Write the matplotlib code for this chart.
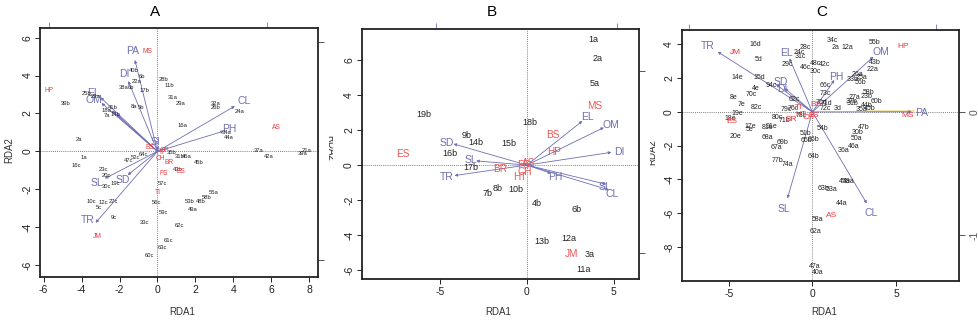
import matplotlib
matplotlib.use("Agg")
import matplotlib.pyplot as plt
from matplotlib.transforms import Bbox, TransformedBbox

plt.rcParams['font.family'] = ['Liberation Sans', 'DejaVu Sans']

BLUE = '#6e6eb4'
RED = '#e8393f'
BLACK = '#222222'

# ---------------- Panel A ----------------
a_site_lab = ["40b", "6b", "22a", "38a", "6b", "17b", "28b", "11b", "31a", "29a", "32a", "26b",
              "24a", "16a", "34a", "44a", "37a", "42a", "21a", "39a", "39b", "25b", "23a", "41b",
              "18a", "14b", "7a", "8a", "5b", "2a", "1a", "16c", "23c", "20c", "30c", "19c", "47c",
              "52c", "64c", "10c", "12c", "27c", "5c", "9c", "33c", "56c", "59c", "57c", "62c",
              "61c", "63c", "60c", "35b", "31b", "46a", "45b", "43b", "55a", "58b", "48b", "53b", "49a"]
a_site_x = [-1.27, -0.84, -1.10, -1.77, -1.42, -0.70, 0.31, 0.62, 0.78, 1.24, 3.08, 3.08,
            4.35, 1.33, 3.64, 3.78, 5.31, 5.84, 7.86, 7.65, -4.84, -3.73, -3.26, -2.33,
            -2.68, -2.21, -2.68, -1.24, -0.89, -4.14, -3.87, -4.26, -2.82, -2.71, -2.71, -2.24, -1.54,
            -1.13, -0.71, -3.47, -2.86, -2.33, -3.07, -2.29, -0.70, -0.05, 0.34, 0.25, 1.15,
            0.57, 0.25, -0.40, 0.75, 1.15, 1.54, 2.19, 1.08, 2.94, 2.59, 2.29, 1.71, 1.85]
a_site_y = [4.29, 3.94, 3.71, 3.38, 3.38, 3.20, 3.77, 3.50, 2.83, 2.50, 2.50, 2.32,
            2.09, 1.34, 0.98, 0.72, 0.02, -0.28, 0.03, -0.12, 2.53, 3.03, 2.89, 2.30,
            2.13, 1.95, 1.88, 2.36, 2.32, 0.60, -0.33, -0.72, -0.95, -1.29, -1.87, -1.69, -0.46,
            -0.35, -0.14, -2.66, -2.71, -2.62, -2.97, -3.50, -3.77, -2.71, -3.22, -1.69, -3.89,
            -4.68, -5.09, -5.51, -0.05, -0.28, -0.25, -0.60, -0.95, -2.18, -2.45, -2.62, -2.66, -3.06]
a_sp_lab = ["MS", "HP", "AS", "BR", "FS", "ES", "TI", "JM", "BS", "HT", "CH", "OP"]
a_sp_x = [-0.54, -5.72, 6.24, 0.62, 0.31, 1.22, 0.04, -3.17, -0.40, 0.20, 0.15, 0.35]
a_sp_y = [5.26, 3.20, 1.25, -0.60, -1.16, -1.07, -2.18, -4.50, 0.19, -0.08, -0.38, 0.05]
a_env_lab = ["PA", "DI", "EL", "OM", "CL", "PH", "SL", "SD", "TR", "SI"]
a_env_x = [-1.19, -1.54, -3.00, -2.95, 4.08, 3.50, -2.77, -1.57, -3.26, 0.05]
a_env_y = [4.82, 3.71, 2.85, 2.55, 2.39, 1.07, -1.43, -1.25, -3.77, 0.30]
a_envlab_x = [-1.33, -1.75, -3.35, -3.33, 4.57, 3.81, -3.17, -1.85, -3.70, -0.11]
a_envlab_y = [5.31, 4.08, 3.06, 2.71, 2.67, 1.18, -1.65, -1.51, -3.63, 0.49]
a_extra_x = [-2.40, -2.15]          # unlabeled arrow tips near 41b / 14b
a_extra_y = [2.15, 1.95]

# ---------------- Panel B ----------------
b_site_lab = ["1a", "2a", "5a", "19b", "18b", "9b", "14b", "15b", "16b", "17b", "8b", "7b",
              "10b", "4b", "6b", "12a", "13b", "3a", "11a"]
b_site_x = [3.80, 4.09, 3.90, -5.95, 0.15, -3.49, -2.96, -1.04, -4.41, -3.21, -1.67, -2.25,
            -0.61, 0.58, 2.88, 2.40, 0.88, 3.61, 3.26]
b_site_y = [7.16, 6.11, 4.68, 2.91, 2.43, 1.67, 1.31, 1.21, 0.68, -0.14, -1.36, -1.61,
            -1.42, -2.18, -2.57, -4.23, -4.38, -5.10, -6.00]
b_sp_lab = ["MS", "BS", "HP", "ES", "BR", "JM", "HT", "AS", "CH", "FS"]
b_sp_x = [3.90, 1.50, 1.54, -7.14, -1.54, 2.59, -0.38, 0.12, -0.12, -0.22]
b_sp_y = [3.40, 1.73, 0.73, 0.62, -0.24, -5.10, -0.66, 0.10, -0.40, 0.00]
b_env_lab = ["EL", "OM", "DI", "SI", "CL", "PH", "SD", "SL", "TR"]
b_env_x = [3.19, 4.43, 4.86, 4.57, 4.72, 1.40, -4.22, -2.92, -4.17]
b_env_y = [2.52, 2.15, 0.73, -1.10, -1.42, -0.47, 1.21, 0.24, -0.60]
b_envlab_x = [3.47, 4.86, 5.30, 4.41, 4.91, 1.63, -4.64, -3.21, -4.61]
b_envlab_y = [2.74, 2.30, 0.77, -1.23, -1.65, -0.70, 1.25, 0.30, -0.66]

# ---------------- Panel C ----------------
c_site_lab = ["16d", "5d", "14e", "15d", "4e", "70c", "8e", "7e", "82c", "19e", "18e", "17e",
              "5e", "20e", "94c", "62c", "79c", "76c", "78c", "80c", "71b", "91e", "81e", "68a",
              "69b", "67a", "77b", "74a", "28c", "24c", "31c", "29c", "46c", "48c", "42c", "30c",
              "34c", "2a", "12a", "55b", "43b", "22a", "26a", "25a", "33b", "56b", "66c", "73c",
              "58b", "23b", "27a", "60b", "37b", "31b", "44b", "35a", "45b", "3d", "72c", "70d",
              "71d", "54b", "47b", "30b", "50a", "46a", "36a", "51b", "65b", "66b", "64b", "45a",
              "49a", "63b", "53a", "44a", "58a", "62a", "47a", "40a"]
c_site_x = [-3.39, -3.23, -4.46, -3.19, -3.37, -3.63, -4.72, -4.26, -3.33, -4.48, -4.92, -3.73,
            -3.76, -4.58, -2.43, -1.08, -1.53, -1.15, -0.64, -2.09, -1.69, -2.43, -2.69, -2.69,
            -1.77, -2.17, -2.07, -1.47, -0.42, -0.78, -0.70, -1.49, -0.44, 0.20, 0.70, 0.20,
            1.20, 1.39, 2.11, 3.71, 3.71, 3.59, 2.69, 2.95, 2.41, 2.85, 0.76, 0.76,
            3.35, 3.21, 2.49, 3.84, 2.35, 2.41, 3.25, 2.91, 3.45, 1.49, 0.76, 0.56,
            0.86, 0.60, 3.05, 2.71, 2.61, 2.49, 1.89, -0.38, -0.34, 0.06, 0.06, 1.95,
            2.15, 0.66, 1.12, 1.75, 0.32, 0.20, 0.16, 0.30]
c_site_y = [4.00, 3.13, 2.02, 2.02, 1.39, 1.06, 0.84, 0.45, 0.27, -0.12, -0.38, -0.84,
            -1.03, -1.47, 1.55, 0.76, 0.17, 0.19, -0.19, -0.35, -0.48, -0.84, -0.94, -1.53,
            -1.81, -2.12, -2.89, -3.11, 3.80, 3.52, 3.31, 2.83, 2.62, 2.87, 2.83, 2.38,
            4.22, 3.80, 3.80, 4.12, 2.94, 2.52, 2.24, 2.04, 1.93, 1.73, 1.55, 1.10,
            1.16, 0.90, 0.86, 0.61, 0.61, 0.47, 0.37, 0.17, 0.21, 0.21, 0.21, 0.54,
            0.50, -0.98, -0.94, -1.21, -1.57, -2.06, -2.26, -1.27, -1.67, -1.63, -2.66, -4.10,
            -4.10, -4.53, -4.59, -5.45, -6.34, -7.05, -9.16, -9.50]
c_sp_lab = ["JM", "HP", "MS", "AS", "ES", "TI", "BR", "BS", "HT", "CH", "FS"]
c_sp_x = [-4.60, 5.44, 5.68, 1.16, -4.82, -0.84, -1.24, 0.20, -0.70, -0.24, 0.10]
c_sp_y = [3.53, 3.86, -0.19, -6.14, -0.58, 0.27, -0.42, 0.44, -0.15, -0.32, -0.19]
c_env_lab = ["TR", "EL", "SD", "DI", "PH", "OM", "PA", "SL", "CL"]
c_env_x = [-5.66, -1.37, -2.17, -1.65, 1.31, 3.65, 5.94, -1.49, 3.25]
c_env_y = [3.56, 3.17, 1.63, 1.40, 1.89, 3.27, 0.01, -5.12, -5.42]
c_envlab_x = [-6.27, -1.57, -1.87, -1.79, 1.45, 4.10, 6.53, -1.69, 3.49]
c_envlab_y = [3.92, 3.50, 1.79, 1.33, 2.04, 3.53, -0.05, -5.77, -6.01]
c_pale_x = [3.30, 6.10]
c_pale_y = [0.05, 0.05]

W, H = 979, 326
fig = plt.figure(figsize=(W / 100, H / 100), dpi=100)


def fx(px):
    return px / W


def fy(py):
    return 1 - py / H


def make_panel(rect, xlim, ylim, xticks, yticks, top_ticks, right_ticks, right_labels=None):
    ax = fig.add_axes(rect)
    ax.set_xlim(*xlim)
    ax.set_ylim(*ylim)
    ax.set_xticks(xticks)
    ax.set_xticklabels([str(t) for t in xticks])
    ax.set_yticks(yticks)
    ax.set_yticklabels([str(t) for t in yticks], rotation=90, va='center')
    ax.tick_params(axis='both', labelsize=7.5, length=3.5, width=0.7, colors=BLACK, pad=2)
    for s in ax.spines.values():
        s.set_linewidth(1.3)
        s.set_color('#222222')
    ax.axhline(0, color='#555555', lw=0.6, ls=(0, (1, 1.5)), zorder=0)
    ax.axvline(0, color='#555555', lw=0.6, ls=(0, (1, 1.5)), zorder=0)
    tx = ax.secondary_xaxis('top')
    tx.set_xticks(top_ticks)
    tx.set_xticklabels([])
    tx.tick_params(length=4, width=0.7, colors='#8888bb')
    tx.spines['top'].set_visible(False)
    ry = ax.secondary_yaxis('right')
    ry.set_yticks(right_ticks)
    if right_labels is None:
        ry.set_yticklabels([])
    else:
        ry.set_yticklabels(right_labels, rotation=90, va='center', fontsize=7.5)
    ry.tick_params(length=4, width=0.7, colors='#555555')
    ry.spines['right'].set_visible(False)
    return ax


def draw_arrows(ax, ex, ey, lx, ly, labs, fs):
    for x, y, tx_, ty_, lab in zip(ex, ey, lx, ly, labs):
        ax.annotate('', xy=(x, y), xytext=(0, 0),
                    arrowprops=dict(arrowstyle='-|>', color=BLUE, lw=0.6,
                                    mutation_scale=4, shrinkA=0, shrinkB=0), zorder=3)
        ax.text(tx_, ty_, lab, color=BLUE, fontsize=fs, ha='center', va='center', zorder=4)


def draw_labels(ax, xs, ys, labs, color, fs):
    for x, y, lab in zip(xs, ys, labs):
        ax.text(x, y, lab, color=color, fontsize=fs, ha='center', va='center', zorder=5)


# Panel A
axA = make_panel([fx(40), fy(277), 278 / W, 249 / H], (-6.19, 8.46), (-6.63, 6.51),
                 [-6, -4, -2, 0, 2, 4, 6, 8], [-6, -4, -2, 0, 2, 4, 6],
                 [-5.73, 5.75], [-5.74, 5.75])
draw_labels(axA, a_site_x, a_site_y, a_site_lab, BLACK, 4.2)
draw_arrows(axA, a_env_x, a_env_y, a_envlab_x, a_envlab_y, a_env_lab, 7.5)
for x, y in zip(a_extra_x, a_extra_y):
    axA.annotate('', xy=(x, y), xytext=(0, 0),
                 arrowprops=dict(arrowstyle='-|>', color=BLUE, lw=0.6, mutation_scale=4,
                                 shrinkA=0, shrinkB=0), zorder=3)
draw_labels(axA, a_sp_x, a_sp_y, a_sp_lab, RED, 4.8)

# Panel B
axB = make_panel([fx(361.7), fy(279), 277.6 / W, 249.7 / H], (-9.51, 6.47), (-6.52, 7.77),
                 [-5, 0, 5], [-6, -4, -2, 0, 2, 4, 6],
                 [-5.22, 5.16], [5.39, -5.03])
draw_labels(axB, b_site_x, b_site_y, b_site_lab, BLACK, 6.5)
draw_arrows(axB, b_env_x, b_env_y, b_envlab_x, b_envlab_y, b_env_lab, 7.5)
draw_labels(axB, b_sp_x, b_sp_y, b_sp_lab, '#ee5555', 7.2)

# Panel C
axC = make_panel([fx(681.7), fy(281), 277.6 / W, 251 / H], (-7.81, 8.78), (-10.01, 4.85),
                 [-5, 0, 5], [-8, -6, -4, -2, 0, 2, 4],
                 [-7.35, 7.39], [0.0, -7.31], right_labels=["0", "-1"])
axC.plot(c_pale_x, c_pale_y, color='#f2e6a8', lw=1.4, zorder=2)
draw_labels(axC, c_site_x, c_site_y, c_site_lab, BLACK, 5.0)
draw_arrows(axC, c_env_x, c_env_y, c_envlab_x, c_envlab_y, c_env_lab, 7.5)
draw_labels(axC, c_sp_x, c_sp_y, c_sp_lab, RED, 6.0)

# titles and axis labels
for x, t in [(155, "A"), (492, "B"), (822, "C")]:
    fig.text(fx(x), fy(12), t, fontsize=11, ha='center', va='center')
for x in [182, 498, 824]:
    fig.text(fx(x), fy(312), "RDA1", fontsize=7, ha='center', va='center', color='#333333')
fig.text(fx(9), fy(150), "RDA2", fontsize=7, rotation=90, ha='center', va='center', color='#333333')


def clipped_label(x, y, rot, clip):
    t = fig.text(fx(x), fy(y), "RDA2", fontsize=7, rotation=rot, ha='center', va='center',
                 color='#333333')
    t.set_clip_box(TransformedBbox(Bbox([[fx(clip[0]), 0], [fx(clip[1]), 1]]), fig.transFigure))
    t.set_clip_on(True)


clipped_label(330, 148, 270, (322, 333))
clipped_label(651, 150, 270, (640, 650))
clipped_label(652, 152, 90, (650, 657))

fig.savefig("out.png", dpi=100)
